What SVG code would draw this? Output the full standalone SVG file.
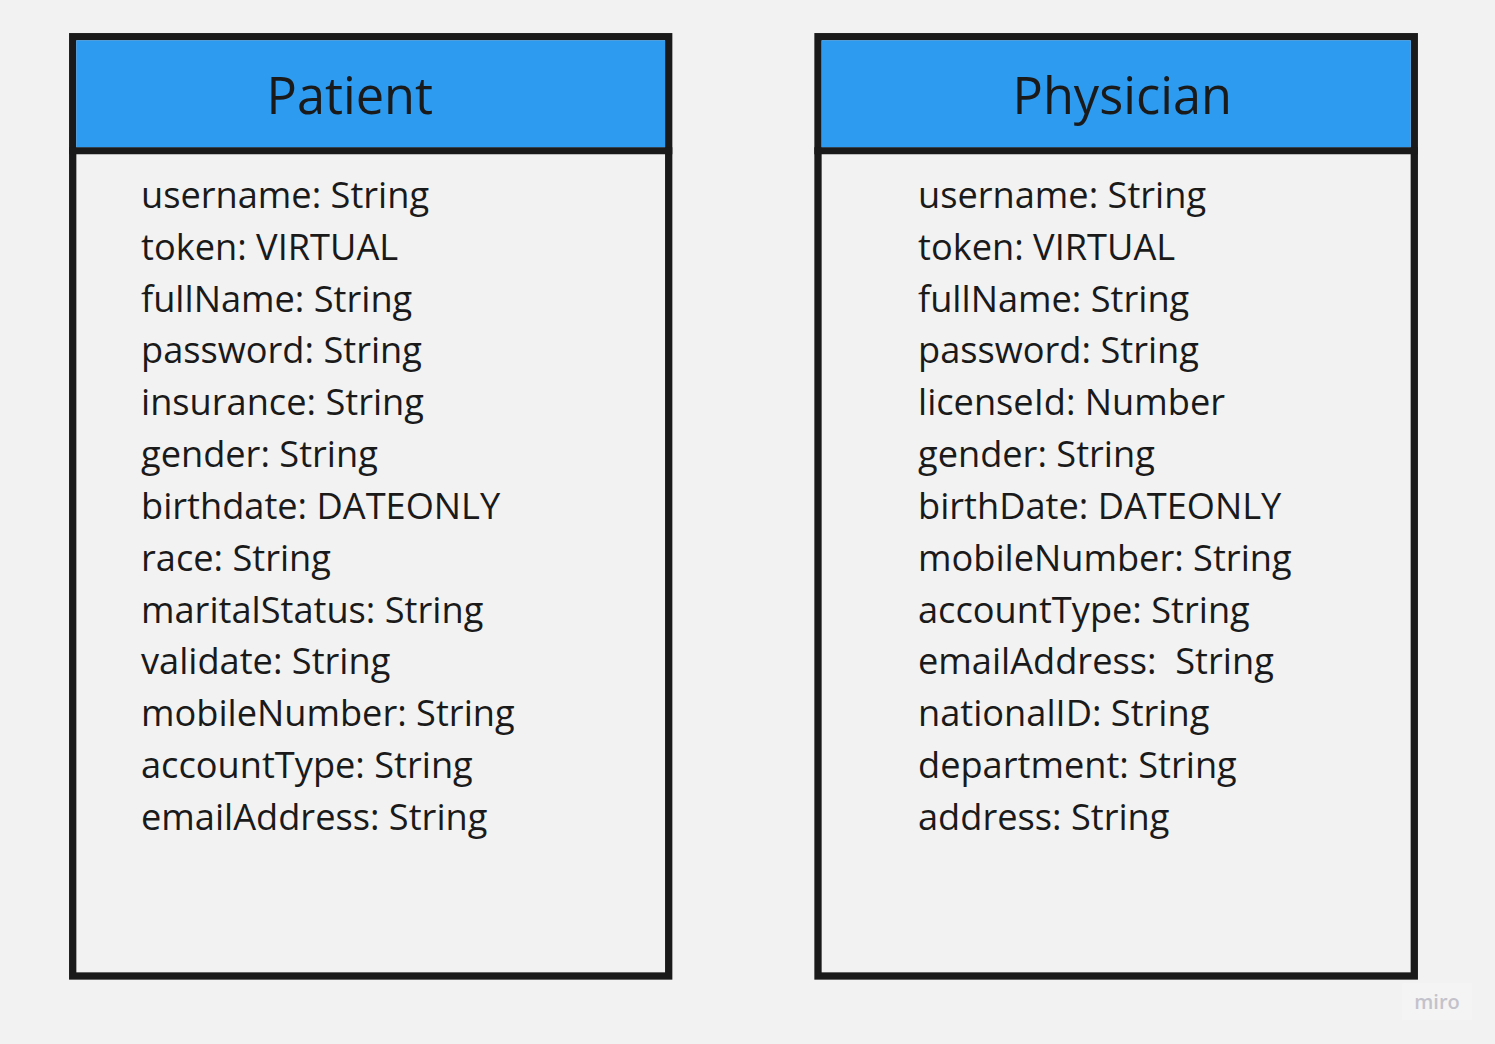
<svg xmlns="http://www.w3.org/2000/svg" width="1495" height="1044" viewBox="0 0 1495 1044">
<style>
.frame{fill:#f2f2f2;stroke:#1a1a1a;stroke-width:7.3}
.head{fill:#2d9bf0}
.sep{stroke:#1a1a1a;stroke-width:7}
.title{font-family:"Open Sans","Noto Sans",sans-serif;font-size:50.5px;fill:#1a1a1a}
.attr{font-family:"Open Sans","Noto Sans",sans-serif;font-size:36.2px;fill:#1a1a1a}
.wm{font-family:"Open Sans","Noto Sans",sans-serif;font-size:20px;font-weight:600;fill:#c3c2cb}
</style>
<rect width="1495" height="1044" fill="#f2f2f2"/>
<g id="patient">
<rect class="frame" x="72.7" y="36.7" width="596" height="939.3"/>
<rect class="head" x="76.3" y="40.3" width="588.8" height="107.3"/>
<line class="sep" x1="69" y1="150.7" x2="672.3" y2="150.7"/>
<text class="title" x="266.5" y="114">Patient</text>
<text class="attr" x="141">
<tspan x="141" y="208">username: String</tspan>
<tspan x="141" y="259.8">token: VIRTUAL</tspan>
<tspan x="141" y="311.6">fullName: String</tspan>
<tspan x="141" y="363.4">password: String</tspan>
<tspan x="141" y="415.2">insurance: String</tspan>
<tspan x="141" y="467.1">gender: String</tspan>
<tspan x="141" y="519">birthdate: DATEONLY</tspan>
<tspan x="141" y="570.8">race: String</tspan>
<tspan x="141" y="622.6">maritalStatus: String</tspan>
<tspan x="141" y="674.4">validate: String</tspan>
<tspan x="141" y="726.2">mobileNumber: String</tspan>
<tspan x="141" y="778">accountType: String</tspan>
<tspan x="141" y="829.9">emailAddress: String</tspan>
</text>
</g>
<g id="physician">
<rect class="frame" x="818" y="36.7" width="596.3" height="939.3"/>
<rect class="head" x="821.7" y="40.3" width="589" height="107.3"/>
<line class="sep" x1="814.3" y1="150.7" x2="1418" y2="150.7"/>
<text class="title" x="1012.5" y="114">Physician</text>
<text class="attr" x="918">
<tspan x="918" y="208">username: String</tspan>
<tspan x="918" y="259.8">token: VIRTUAL</tspan>
<tspan x="918" y="311.6">fullName: String</tspan>
<tspan x="918" y="363.4">password: String</tspan>
<tspan x="918" y="415.2">licenseId: Number</tspan>
<tspan x="918" y="467.1">gender: String</tspan>
<tspan x="918" y="519">birthDate: DATEONLY</tspan>
<tspan x="918" y="570.8">mobileNumber: String</tspan>
<tspan x="918" y="622.6">accountType: String</tspan>
<tspan x="918" y="674.4" xml:space="preserve">emailAddress:  String</tspan>
<tspan x="918" y="726.2">nationalID: String</tspan>
<tspan x="918" y="778">department: String</tspan>
<tspan x="918" y="829.9">address: String</tspan>
</text>
</g>
<g id="connectors"></g>
<g id="watermark">
<rect x="1402" y="983" width="70" height="37" fill="#f4f4f4"/>
<text class="wm" x="1437" y="1009" text-anchor="middle">miro</text>
</g>
</svg>
